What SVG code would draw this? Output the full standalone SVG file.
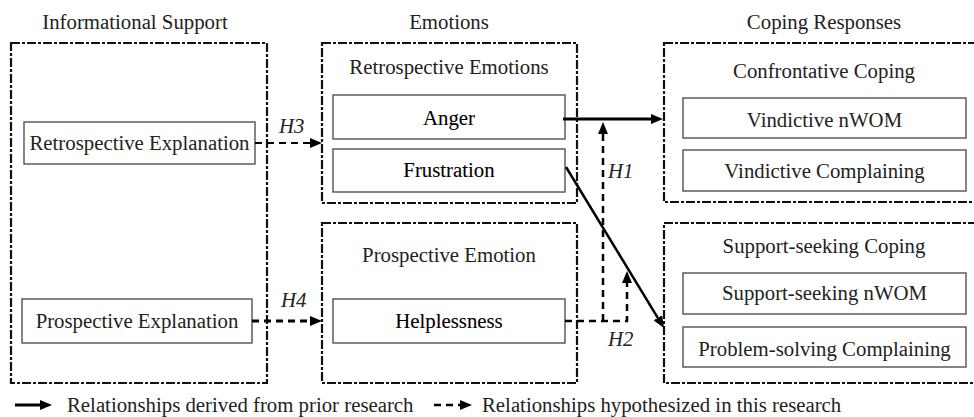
<svg xmlns="http://www.w3.org/2000/svg" width="974" height="417" viewBox="0 0 974 417">
<defs>
<style>
text{font-family:"Liberation Serif","Times New Roman",serif;font-size:20.8px;fill:#222}
.c{text-anchor:middle}
.b{fill:#000;stroke:#000;stroke-width:0.1}
.h{font-style:italic}
.grp{fill:none;stroke:#111;stroke-width:2.2;stroke-dasharray:9 2 3 2}
.box{fill:#fff;stroke:#444;stroke-width:1.3}
.solid{fill:none;stroke:#000}
.dash{fill:none;stroke:#000;stroke-dasharray:7 5}
</style>
<marker id="ah" viewBox="0 0 12 10" refX="0" refY="5" markerWidth="12" markerHeight="10" markerUnits="userSpaceOnUse" orient="auto">
<path d="M0,0 L12,5 L0,10 z" fill="#000"/>
</marker>
</defs>
<rect width="974" height="417" fill="#fff"/>

<g id="titles">
<text class="c" x="135" y="29">Informational Support</text>
<text class="c" x="449" y="29">Emotions</text>
<text class="c" x="824" y="29">Coping Responses</text>
</g>

<g id="informational-support">
<rect class="grp" x="11" y="43" width="256" height="340"/>
</g>
<g id="retrospective-explanation">
<rect class="box" x="24" y="122" width="231" height="42"/>
<text class="c" x="139.5" y="150">Retrospective Explanation</text>
</g>
<g id="prospective-explanation">
<rect class="box" x="22" y="299" width="230" height="44"/>
<text class="c" x="137" y="328">Prospective Explanation</text>
</g>

<g id="retrospective-emotions">
<rect class="grp" x="322" y="43" width="255" height="160"/>
<text class="c" x="449" y="74">Retrospective Emotions</text>
</g>
<g id="anger">
<rect class="box" x="333" y="95" width="232" height="44"/>
<text class="c b" x="449" y="125">Anger</text>
</g>
<g id="frustration">
<rect class="box" x="333" y="149" width="232" height="43"/>
<text class="c b" x="449" y="177">Frustration</text>
</g>

<g id="prospective-emotion">
<rect class="grp" x="322" y="223" width="255" height="160"/>
<text class="c" x="449" y="262">Prospective Emotion</text>
</g>
<g id="helplessness">
<rect class="box" x="333" y="299" width="232" height="44"/>
<text class="c b" x="449" y="328">Helplessness</text>
</g>

<g id="confrontative-coping">
<rect class="grp" x="664" y="43" width="320" height="159"/>
<text class="c" x="824" y="78">Confrontative Coping</text>
</g>
<g id="vindictive-nwom">
<rect class="box" x="683" y="98" width="283" height="40"/>
<text class="c" x="824.5" y="127">Vindictive nWOM</text>
</g>
<g id="vindictive-complaining">
<rect class="box" x="683" y="150" width="283" height="41"/>
<text class="c" x="824.5" y="178">Vindictive Complaining</text>
</g>

<g id="support-seeking-coping">
<rect class="grp" x="664" y="223" width="320" height="160"/>
<text class="c" x="824" y="253">Support-seeking Coping</text>
</g>
<g id="support-seeking-nwom">
<rect class="box" x="683" y="273" width="283" height="41"/>
<text class="c" x="824.5" y="300">Support-seeking nWOM</text>
</g>
<g id="problem-solving-complaining">
<rect class="box" x="683" y="327" width="283" height="40"/>
<text class="c" x="824.5" y="356">Problem-solving Complaining</text>
</g>

<g id="connectors">
<path class="dash" d="M255,143 H310" stroke-width="2" marker-end="url(#ah)"/>
<text class="h" x="279" y="133">H3</text>
<path class="dash" d="M252,321 H310" stroke-width="3" marker-end="url(#ah)"/>
<text class="h" x="281" y="307">H4</text>
<path class="solid" d="M563,119 H651" stroke-width="3" marker-end="url(#ah)"/>
<path class="solid" d="M566,167 L657.8,317.8" stroke-width="2.5" marker-end="url(#ah)"/>
<path class="dash" d="M565,321 H627 V283" stroke-width="2.5" marker-end="url(#ah)"/>
<path class="dash" d="M603,321 V134" stroke-width="2.5" marker-end="url(#ah)"/>
<text class="h" x="608" y="178">H1</text>
<text class="h" x="608" y="346">H2</text>
</g>

<g id="legend">
<path class="solid" d="M15,405 H40" stroke-width="3" marker-end="url(#ah)"/>
<text x="67" y="412">Relationships derived from prior research</text>
<path class="dash" d="M434,405 H460" stroke-width="2.5" stroke-dasharray="6 4" marker-end="url(#ah)"/>
<text x="482" y="412">Relationships hypothesized in this research</text>
</g>
</svg>
